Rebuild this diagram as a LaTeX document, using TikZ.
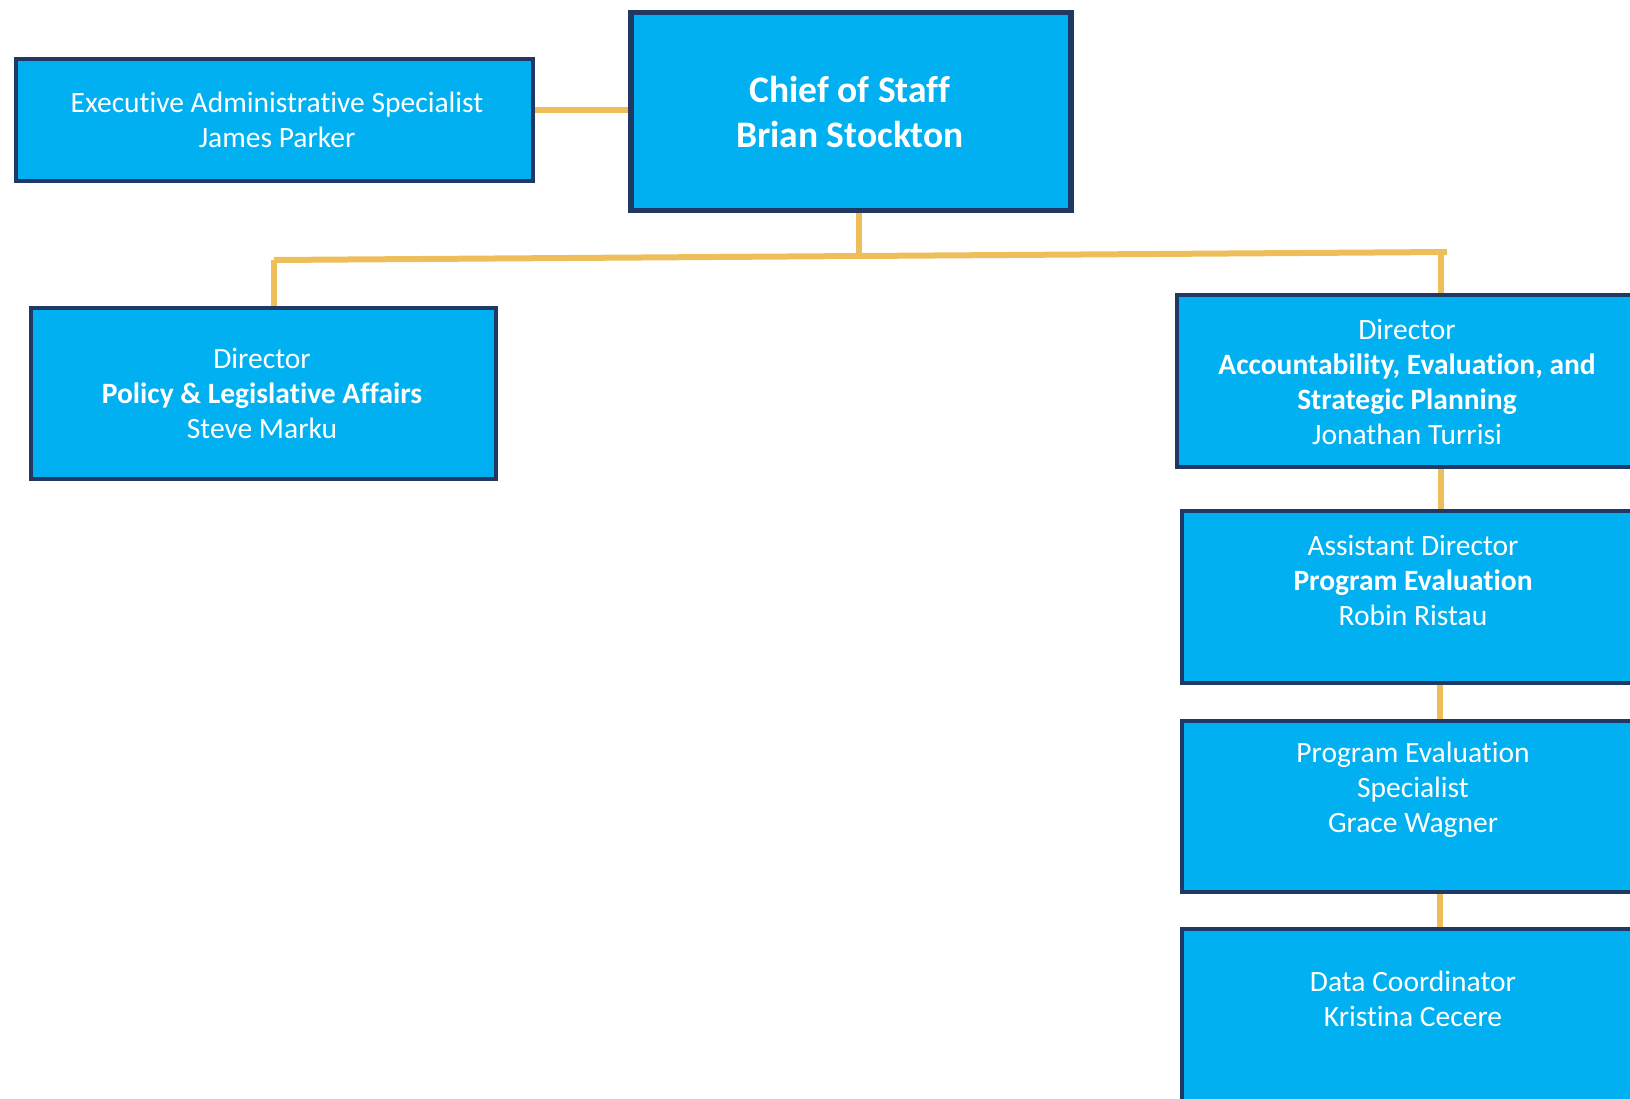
\documentclass[tikz,border=0pt]{standalone}
\usepackage{fontspec}
\setmainfont{Carlito}[Ligatures=NoCommon]
\definecolor{boxfill}{HTML}{00B0F0}
\definecolor{boxline}{HTML}{1F3864}
\definecolor{conn}{HTML}{EDBE5A}
\begin{document}
\begin{tikzpicture}[x=1pt,y=-1pt,
  box/.style={draw=boxline,fill=boxfill,line width=4pt,minimum width=#1,inner sep=0pt,rectangle},
  txt/.style={text=white,align=center,font=\fontsize{29.5}{35}\selectfont,inner sep=0pt},
  link/.style={draw=conn,line width=6pt}]
\useasboundingbox (0,0) rectangle (1630,1098);
\clip (0,0) rectangle (1630,1098);
% boxes
\node[box=517pt,minimum height=122pt] (exec) at (274,119.5) {};
\node[box=440pt,minimum height=198pt,line width=5.5pt] (chief) at (851,111.7) {};
\node[box=465pt,minimum height=171pt] (policy) at (263,393) {};
\node[box=523pt,minimum height=172pt] (aesp) at (1438.5,381) {};
\node[box=518pt,minimum height=172pt] (asst) at (1441,596.5) {};
\node[box=518pt,minimum height=171pt] (pes) at (1441,806) {};
\node[box=518pt,minimum height=220pt] (data) at (1441,1039) {};
% connectors
\coordinate (hl) at (274,260);
\coordinate (hr) at (1447,252);
\coordinate (hm) at (859,256);
\draw[link] (exec.east |- 0,110) -- (chief.west |- 0,110);
\draw[link] (chief.south -| hm) -- (hm);
\draw[link] (hl) -- (hr);
\draw[link] (hl) -- (policy.north -| hl);
\draw[link] (1441,252) -- (aesp.north -| 1441,0);
\draw[link] (aesp.south -| 1441,0) -- (asst.north -| 1441,0);
\draw[link] (asst.south -| 1440,0) -- (pes.north -| 1440,0);
\draw[link] (pes.south -| 1440,0) -- (data.north -| 1440,0);
% texts
\node[txt] (t-exec) at (277,120) {Executive Administrative Specialist\\James Parker};
\node[txt,font=\fontsize{37.5}{45}\selectfont\bfseries] (t-chief) at (850,111.5) {Chief of Staff\\Brian Stockton};
\node[txt] (t-policy) at (262,393.5) {Director\\\textbf{Policy \& Legislative Affairs}\\Steve Marku};
\node[txt] (t-aesp) at (1407,381.5) {Director\\\textbf{Accountability, Evaluation, and}\\\textbf{Strategic Planning}\\Jonathan Turrisi};
\node[txt] (t-asst) at (1413,580) {Assistant Director\\\textbf{Program Evaluation}\\Robin Ristau};
\node[txt] (t-pes) at (1413,789.5) {Program Evaluation\\Specialist\\Grace Wagner};
\node[txt] (t-data) at (1413,998.5) {Data Coordinator\\Kristina Cecere};
\end{tikzpicture}
\end{document}
